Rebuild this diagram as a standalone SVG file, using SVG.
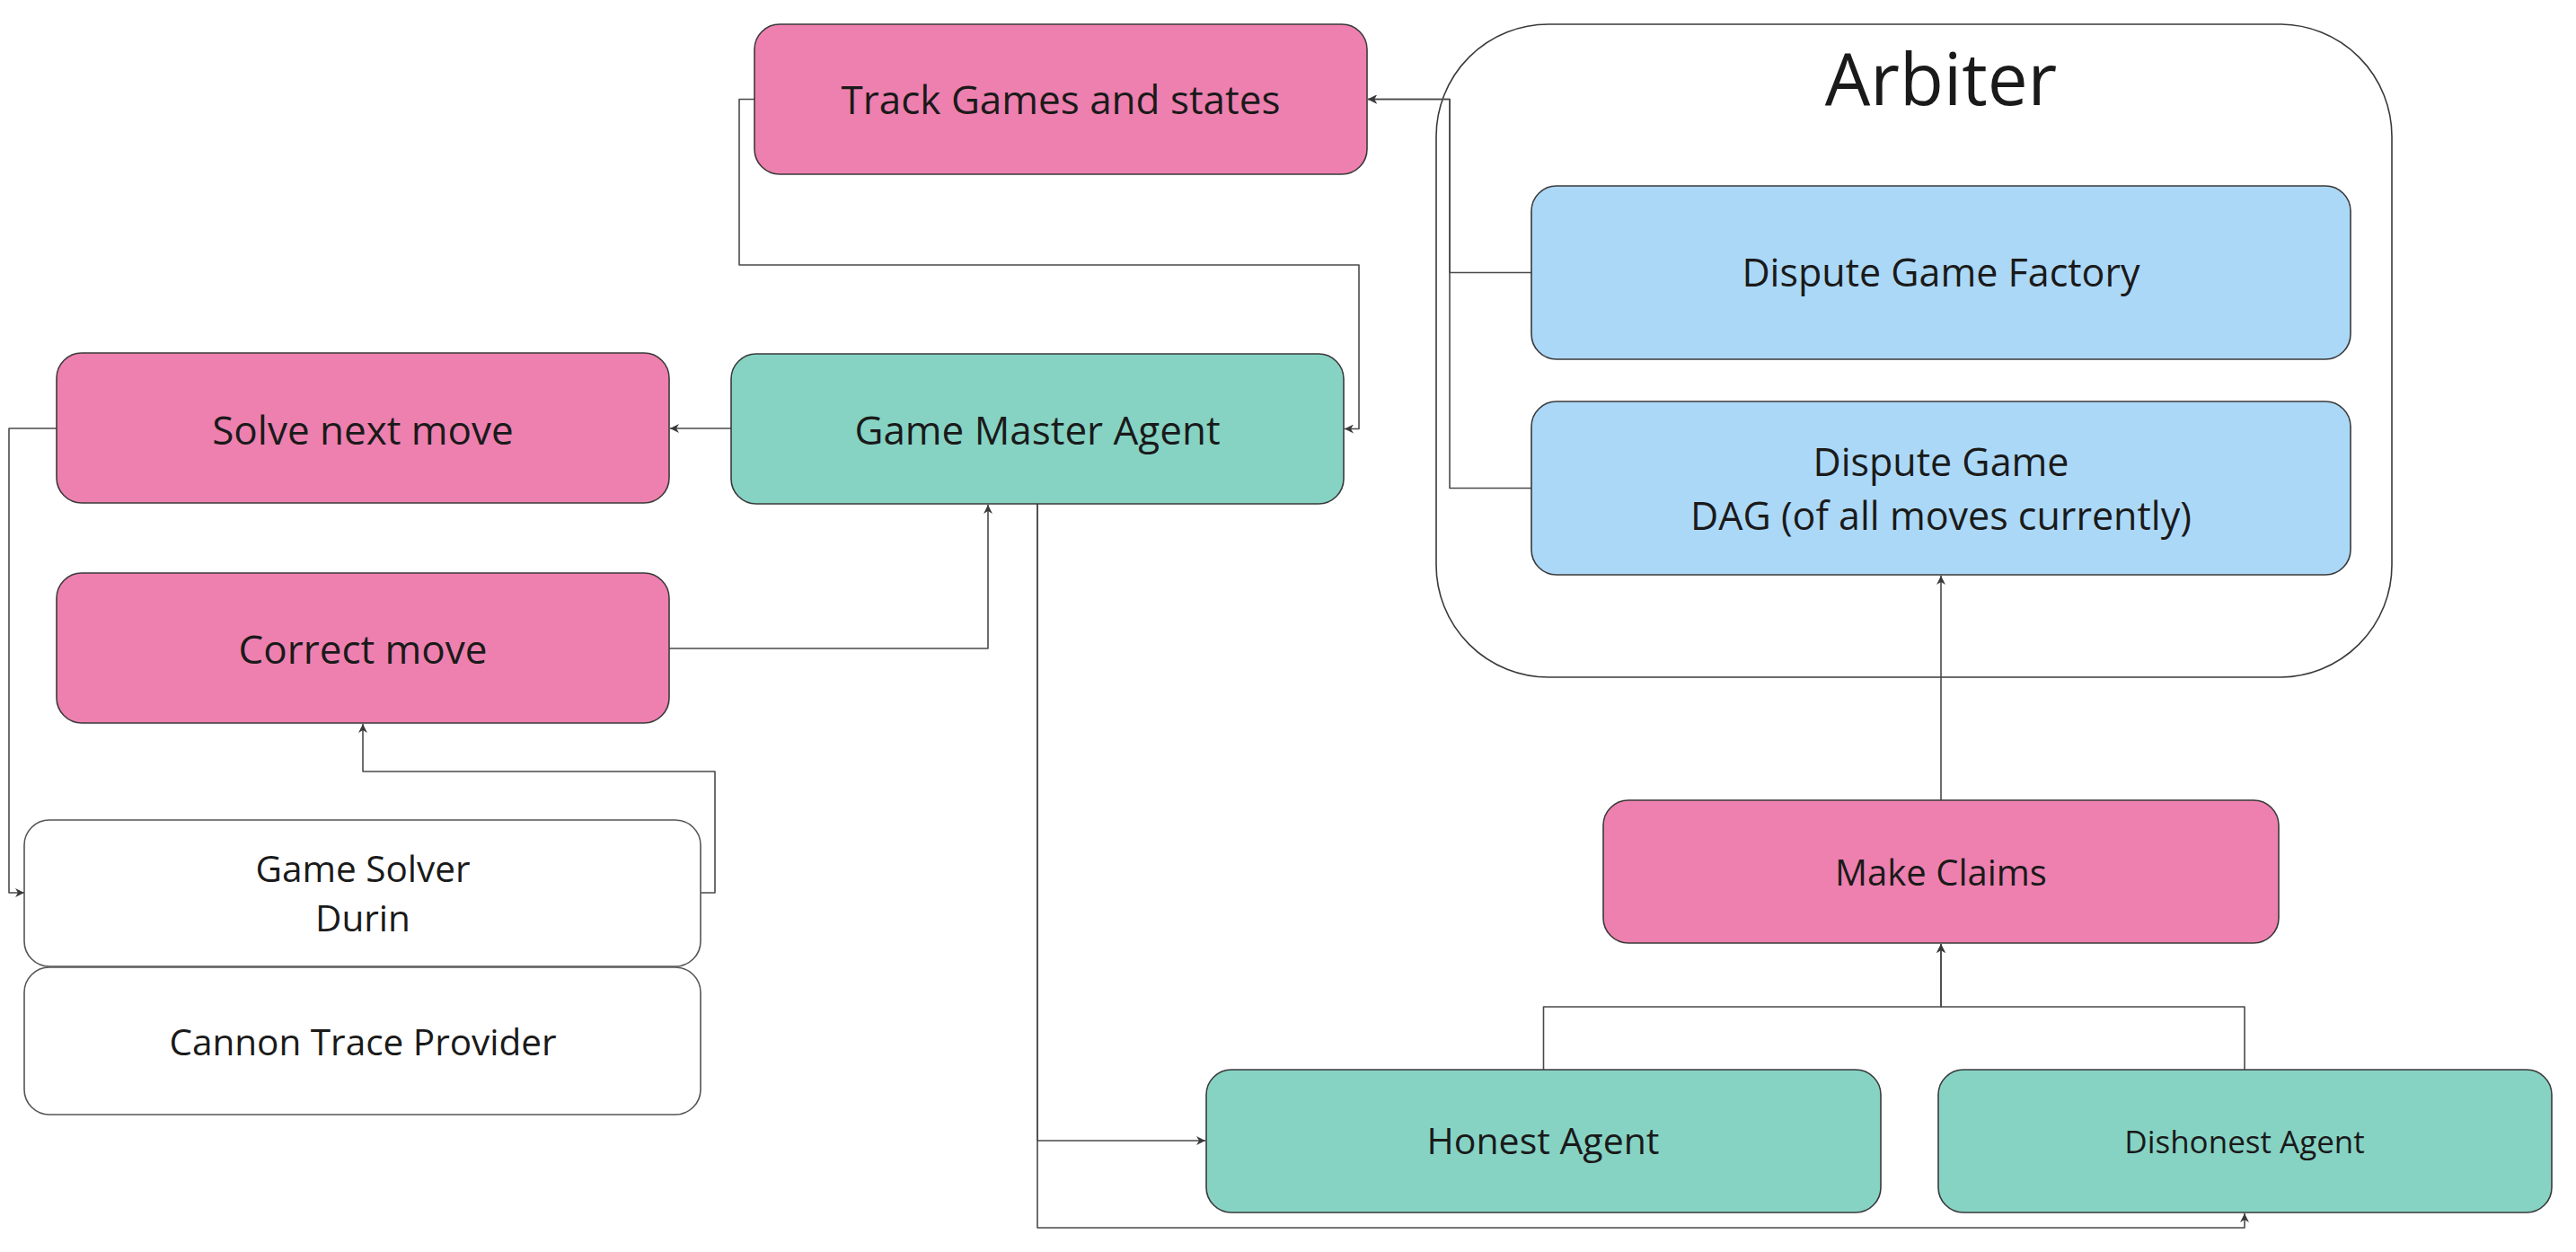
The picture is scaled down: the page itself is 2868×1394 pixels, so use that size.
<svg xmlns="http://www.w3.org/2000/svg" width="2868" height="1394" viewBox="0 0 2868 1394">
<style>
.box{stroke:#3a3a3a;stroke-width:1.6}
.pink{fill:#ee80af}
.teal{fill:#86d3c4}
.blue{fill:#acd8f7}
.white{fill:#ffffff;stroke:#555}
.t{font-family:"Open Sans","Noto Sans","Liberation Sans",sans-serif;fill:#1a1a1a;text-anchor:middle}
.c{fill:none;stroke:#4a4a4a;stroke-width:1.6;stroke-linejoin:round}
</style>
<defs>
<marker id="ah" markerUnits="userSpaceOnUse" markerWidth="12" markerHeight="10" refX="10" refY="5" orient="auto">
<path d="M0,0 L10,5 L0,10 L3,5 z" fill="#3a3a3a"/>
</marker>
</defs>
<rect width="2868" height="1394" fill="#ffffff"/>

<g id="arbiter">
<rect x="1599" y="27" width="1064" height="727" rx="125" ry="125" fill="#ffffff" stroke="#3a3a3a" stroke-width="1.6"/>
<text class="t" x="2161" y="117" font-size="80">Arbiter</text>
</g>

<g id="connectors">
<path class="c" d="M840,110.5 H823 V295 H1513 V477.5 H1497" marker-end="url(#ah)"/>
<path class="c" d="M1705,303.5 H1614 V110.5 H1523" marker-end="url(#ah)"/>
<path class="c" d="M1705,543.5 H1614 V110.5 H1523" marker-end="url(#ah)"/>
<path class="c" d="M814,477 H746" marker-end="url(#ah)"/>
<path class="c" d="M63,477 H10 V994 H27" marker-end="url(#ah)"/>
<path class="c" d="M780,994 H796 V859 H404 V806" marker-end="url(#ah)"/>
<path class="c" d="M745,722 H1100 V562" marker-end="url(#ah)"/>
<path class="c" d="M1155,561 V1270 H1342" marker-end="url(#ah)"/>
<path class="c" d="M1155,561 V1367 H2499 V1351" marker-end="url(#ah)"/>
<path class="c" d="M1718.5,1191 V1121 H2161 V1051" marker-end="url(#ah)"/>
<path class="c" d="M2499,1191 V1121 H2161 V1051" marker-end="url(#ah)"/>
<path class="c" d="M2161,891 V641" marker-end="url(#ah)"/>
</g>

<g id="track-games">
<rect class="box pink" x="840" y="27" width="682" height="167" rx="28"/>
<text class="t" x="1181" y="127" font-size="44">Track Games and states</text>
</g>

<g id="game-master-agent">
<rect class="box teal" x="814" y="394" width="682" height="167" rx="28"/>
<text class="t" x="1155" y="495" font-size="44">Game Master Agent</text>
</g>

<g id="solve-next-move">
<rect class="box pink" x="63" y="393" width="682" height="167" rx="28"/>
<text class="t" x="404" y="495" font-size="44">Solve next move</text>
</g>

<g id="correct-move">
<rect class="box pink" x="63" y="638" width="682" height="167" rx="28"/>
<text class="t" x="404" y="739" font-size="44">Correct move</text>
</g>

<g id="game-solver">
<rect class="box white" x="27" y="913" width="753" height="163" rx="28"/>
<text class="t" x="404" y="982" font-size="40.5">Game Solver</text>
<text class="t" x="404" y="1037" font-size="40.5">Durin</text>
</g>

<g id="cannon-trace-provider">
<rect class="box white" x="27" y="1077" width="753" height="164" rx="28"/>
<text class="t" x="404" y="1175" font-size="40.5">Cannon Trace Provider</text>
</g>

<g id="dispute-game-factory">
<rect class="box blue" x="1705" y="207" width="912" height="193" rx="28"/>
<text class="t" x="2161" y="319" font-size="43">Dispute Game Factory</text>
</g>

<g id="dispute-game">
<rect class="box blue" x="1705" y="447" width="912" height="193" rx="28"/>
<text class="t" x="2161" y="530" font-size="43">Dispute Game</text>
<text class="t" x="2161" y="590" font-size="43">DAG (of all moves currently)</text>
</g>

<g id="make-claims">
<rect class="box pink" x="1785" y="891" width="752" height="159" rx="28"/>
<text class="t" x="2161" y="986" font-size="40">Make Claims</text>
</g>

<g id="honest-agent">
<rect class="box teal" x="1343" y="1191" width="751" height="159" rx="28"/>
<text class="t" x="1718" y="1285" font-size="41">Honest Agent</text>
</g>

<g id="dishonest-agent">
<rect class="box teal" x="2158" y="1191" width="683" height="159" rx="28"/>
<text class="t" x="2499" y="1284" font-size="35">Dishonest Agent</text>
</g>
</svg>
